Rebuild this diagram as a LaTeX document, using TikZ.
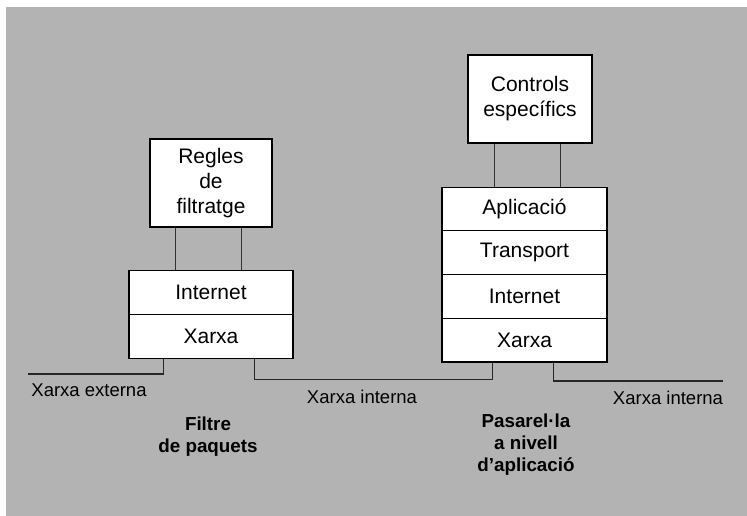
\documentclass[tikz,border=0pt]{standalone}
\usepackage{fontspec}
\setmainfont{Liberation Sans}
\definecolor{bggray}{RGB}{179,179,179}
\definecolor{linegray}{RGB}{50,50,50}
\begin{document}
\begin{tikzpicture}[x=1pt,y=-1pt,
  box/.style={draw=black,line width=1.1pt,fill=white,inner sep=0pt,align=center,
    font=\fontsize{21}{25}\selectfont},
  layer/.style={box,minimum width=164pt,minimum height=43.7pt},
  conn/.style={draw=linegray,line width=1.1pt},
  net/.style={draw=black!85,line width=1.1pt},
  lbl/.style={inner sep=0pt,font=\fontsize{18.5}{22}\selectfont},
  title/.style={inner sep=0pt,align=center,font=\fontsize{18.8}{22}\selectfont\bfseries}]
\useasboundingbox (0,0) rectangle (747,515);
\fill[white] (0,0) rectangle (747,515);
\fill[bggray] (6,7) rectangle (752,520);
% filtre de paquets
\node[box,minimum width=122pt,minimum height=88pt] (regles) at (211,183) {Regles\\de\\filtratge};
\node[layer] (inetL) at (211,292.6) {Internet};
\node[layer] (xarxaL) at (211,336.3) {Xarxa};
% pasarel·la
\node[box,minimum width=124pt,minimum height=88pt] (ctrl) at (530,99) {Controls\\específics};
\node[layer,minimum width=165pt] (apl) at (524.5,209) {Aplicació};
\node[layer,minimum width=165pt] (trans) at (524.5,252.7) {Transport};
\node[layer,minimum width=165pt] (inetR) at (524.5,296.4) {Internet};
\node[layer,minimum width=165pt] (xarxaR) at (524.5,340.1) {Xarxa};
% connectors to rule boxes
\coordinate (r1) at ([xshift=26pt]regles.south west);
\coordinate (r2) at ([xshift=92pt]regles.south west);
\draw[conn] (r1) -- (r1 |- inetL.north);
\draw[conn] (r2) -- (r2 |- inetL.north);
\coordinate (c1) at ([xshift=27pt]ctrl.south west);
\coordinate (c2) at ([xshift=93pt]ctrl.south west);
\draw[conn] (c1) -- (c1 |- apl.north);
\draw[conn] (c2) -- (c2 |- apl.north);
% network lines
\coordinate (xl1) at ([xshift=35pt]xarxaL.south west);
\coordinate (xl2) at ([xshift=126pt]xarxaL.south west);
\coordinate (xr1) at ([xshift=51pt]xarxaR.south west);
\coordinate (xr2) at ([xshift=112pt]xarxaR.south west);
\coordinate (extend) at (28,374);
\coordinate (intend) at (723,381);
\draw[net] (xl1) -- (xl1 |- extend) -- (extend);
\draw[net] (xl2) -- ++(0,20.7) -| (xr1);
\draw[net] (xr2) -- (xr2 |- intend) -- (intend);
% labels
\node[lbl] (lext) at (89,390) {Xarxa externa};
\node[lbl] (lint1) at (362,397) {Xarxa interna};
\node[lbl] (lint2) at (668,398) {Xarxa interna};
\node[title] (tfp) at (208,436.5) {Filtre\\de paquets};
\node[title] (tpas) at (526,445) {Pasarel·la\\a nivell\\d’aplicació};
\end{tikzpicture}
\end{document}
